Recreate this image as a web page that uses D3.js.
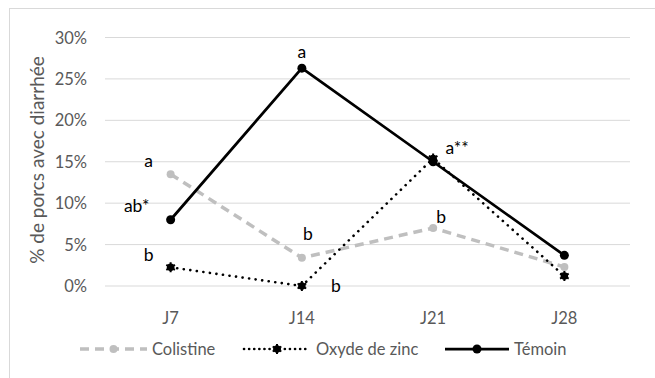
<!DOCTYPE html>
<html>
<head>
<meta charset="utf-8">
<script src="https://cdn.jsdelivr.net/npm/d3@7"></script>
<style>
  body { margin: 0; background: #fff; }
  text { font-family: Lato, "Open Sans", sans-serif; }
</style>
</head>
<body>
<svg id="chart" width="655" height="378"></svg>
<script>
const days = ["J7", "J14", "J21", "J28"];
const colistine = [13.5, 3.4, 7.0, 2.3];
const zinc = [2.25, 0, 15.4, 1.2];
const temoin = [8.0, 26.3, 15.0, 3.7];
const yTicks = [0, 5, 10, 15, 20, 25, 30];

// significance letters: [day, value, label, dx, dy]
const letters = [
  ["J7", 13.5, "a", -22, -14],
  ["J7", 8.0, "ab*", -34, -14],
  ["J7", 2.25, "b", -22, -13],
  ["J14", 26.3, "a", 0, -17],
  ["J14", 3.4, "b", 6, -24],
  ["J14", 0, "b", 34, -1],
  ["J21", 15.4, "a**", 24, -11],
  ["J21", 7.0, "b", 8, -12]
];

const svg = d3.select("#chart");

svg.append("rect")
  .attr("x", 9.5).attr("y", 8.5)
  .attr("width", 660).attr("height", 400)
  .attr("fill", "none").attr("stroke", "#d9d9d9");

const x = d3.scaleBand().domain(days).range([105, 630]);
const y = d3.scaleLinear().domain([0, 30]).range([286, 37.5]);
const cx = d => x(d) + x.bandwidth() / 2;

// grid
svg.append("g").selectAll("line").data(yTicks).join("line")
  .attr("x1", 105).attr("x2", 630)
  .attr("y1", d => y(d)).attr("y2", d => y(d))
  .attr("stroke", "#d9d9d9").attr("stroke-width", 1);

svg.append("g").selectAll("text").data(yTicks).join("text")
  .attr("x", 87).attr("y", d => y(d))
  .attr("text-anchor", "end").attr("dominant-baseline", "central")
  .attr("font-size", 16.5).attr("fill", "#595959")
  .text(d => d + "%");

svg.append("g").selectAll("text").data(days).join("text")
  .attr("x", d => cx(d)).attr("y", 318)
  .attr("text-anchor", "middle").attr("dominant-baseline", "central")
  .attr("font-size", 16.5).attr("fill", "#595959")
  .text(d => d);

svg.append("text")
  .attr("transform", "translate(36,160) rotate(-90)")
  .attr("text-anchor", "middle").attr("dominant-baseline", "central")
  .attr("font-size", 19).attr("fill", "#595959")
  .text("% de porcs avec diarrhée");

const line = d3.line().x((d, i) => cx(days[i])).y(d => y(d));

const star = d3.symbol().type(d3.symbolAsterisk || d3.symbolCross).size(70);

const series = [
  { name: "Colistine", values: colistine, stroke: "#bfbfbf", width: 3.5, dash: "9,6", cap: "butt", marker: "circle", r: 4 },
  { name: "Oxyde de zinc", values: zinc, stroke: "#000", width: 2.6, dash: "0.1,6.5", cap: "round", marker: "star", r: 4 },
  { name: "Témoin", values: temoin, stroke: "#000", width: 2.75, dash: null, cap: "butt", marker: "circle", r: 4.5 }
];

function drawMarker(g, s, px, py) {
  if (s.marker === "circle") {
    g.append("circle").attr("cx", px).attr("cy", py).attr("r", s.r).attr("fill", s.stroke);
  } else {
    g.append("circle").attr("cx", px).attr("cy", py).attr("r", 3.8).attr("fill", s.stroke);
    g.append("path").attr("d", star).attr("transform", `translate(${px},${py})`)
      .attr("stroke", s.stroke).attr("stroke-width", 2).attr("fill", s.stroke);
  }
}

series.forEach(s => {
  const g = svg.append("g");
  g.append("path").attr("d", line(s.values))
    .attr("fill", "none").attr("stroke", s.stroke)
    .attr("stroke-width", s.width)
    .attr("stroke-linecap", s.cap)
    .attr("stroke-linejoin", "round")
    .attr("stroke-dasharray", s.dash);
  s.values.forEach((v, i) => drawMarker(g, s, cx(days[i]), y(v)));
});

svg.append("g").selectAll("text").data(letters).join("text")
  .attr("x", d => cx(d[0]) + d[3]).attr("y", d => y(d[1]) + d[4])
  .attr("text-anchor", "middle").attr("dominant-baseline", "central")
  .attr("font-size", 17.5).attr("fill", "#000")
  .text(d => d[2]);

// legend
const legend = [
  { s: series[0], x1: 80, x2: 147, tx: 152 },
  { s: series[1], x1: 244, x2: 310, tx: 316 },
  { s: series[2], x1: 445, x2: 509, tx: 514 }
];
const ly = 349;
legend.forEach(l => {
  const g = svg.append("g");
  g.append("line").attr("x1", l.x1).attr("x2", l.x2).attr("y1", ly).attr("y2", ly)
    .attr("stroke", l.s.stroke).attr("stroke-width", l.s.width)
    .attr("stroke-linecap", l.s.cap)
    .attr("stroke-dasharray", l.s === series[1] ? "0.1,5" : l.s.dash);
  drawMarker(g, l.s, (l.x1 + l.x2) / 2, ly);
  g.append("text").attr("x", l.tx).attr("y", ly)
    .attr("dominant-baseline", "central")
    .attr("font-size", 16.5).attr("fill", "#595959")
    .text(l.s.name);
});
</script>
</body>
</html>
